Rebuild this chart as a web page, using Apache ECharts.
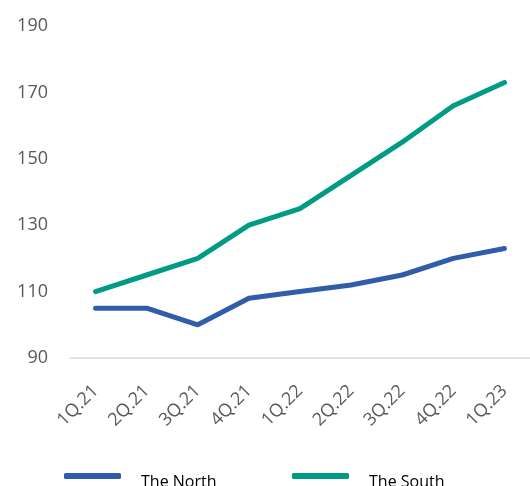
<!DOCTYPE html>
<html>
<head>
<meta charset="utf-8">
<script src="https://cdn.jsdelivr.net/npm/echarts@6/dist/echarts.min.js"></script>
<style>
  html, body { margin: 0; padding: 0; background: #fff; }
  #chart { width: 530px; height: 486px; }
</style>
</head>
<body>
<div id="chart"></div>
<script>
// quarters on the x axis
var quarters = ['1Q.21', '2Q.21', '3Q.21', '4Q.21', '1Q.22', '2Q.22', '3Q.22', '4Q.22', '1Q.23'];
var northVals = [105, 105, 100, 108, 110, 112, 115, 120, 123];
var southVals = [110, 115, 120, 130, 135, 145, 155, 166, 173];

var fontName = 'Open Sans';
var northColor = '#2F5DA9';
var southColor = '#009B85';

var chart = echarts.init(document.getElementById('chart'));

var legendBase = {
    top: 468,
    icon: 'roundRect',
    itemWidth: 57,
    itemHeight: 6,
    formatter: function(name) { return '{t|' + name + '}'; },
    textStyle: {
        fontFamily: fontName, fontSize: 16, color: '#000',
        rich: { t: { fontFamily: fontName, fontSize: 16, color: '#000', padding: [12, 0, 0, 15] } }
    }
};

chart.setOption({
    animation: false,
    grid: { left: 70, right: 0, top: 26, bottom: 128 },
    legend: [
        Object.assign({ left: 59, data: ['The North'] }, legendBase),
        Object.assign({ left: 287, data: ['The South'] }, legendBase)
    ],
    xAxis: {
        type: 'category',
        data: quarters,
        axisLine: { lineStyle: { color: '#d9d9d9', width: 1.5 } },
        axisTick: { show: false },
        axisLabel: { rotate: 45, margin: 30, fontFamily: fontName, fontSize: 18, color: '#595959' }
    },
    yAxis: {
        type: 'value',
        min: 90,
        max: 190,
        interval: 20,
        splitLine: { show: false },
        axisLine: { show: false },
        axisTick: { show: false },
        axisLabel: { margin: 22, fontFamily: fontName, fontSize: 18, color: '#595959' }
    },
    series: [
        {
            name: 'The North', type: 'line', data: northVals, symbol: 'none',
            color: northColor, lineStyle: { width: 5, cap: 'round' }
        },
        {
            name: 'The South', type: 'line', data: southVals, symbol: 'none',
            color: southColor, lineStyle: { width: 5, cap: 'round' }
        }
    ]
});
</script>
</body>
</html>
